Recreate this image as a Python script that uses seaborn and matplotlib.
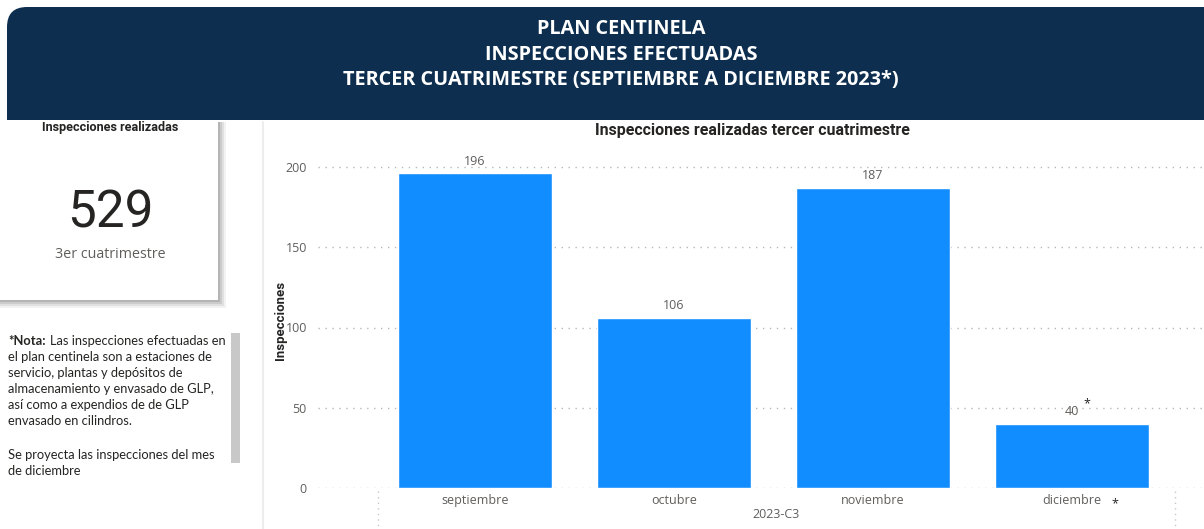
import matplotlib
matplotlib.use("Agg")
import matplotlib.pyplot as plt
from matplotlib.patches import FancyBboxPatch, Rectangle
import pandas as pd
import seaborn as sns

# data
months = ["septiembre", "octubre", "noviembre", "diciembre"]
inspections = [196, 106, 187, 40]
total_label = "529"
y_ticks = [0, 50, 100, 150, 200]

header_lines = ["PLAN CENTINELA", "INSPECCIONES EFECTUADAS",
                "TERCER CUATRIMESTRE (SEPTIEMBRE A DICIEMBRE 2023*)"]
note_lines = ["el plan centinela son a estaciones de",
              "servicio, plantas y depósitos de",
              "almacenamiento y envasado de GLP,",
              "así como a expendios de de GLP",
              "envasado en cilindros."]
note_tail = ["Se proyecta las inspecciones del mes", "de diciembre"]

NAVY = "#0D2E4F"
BLUE = "#118DFF"
GRAY = "#605E5C"
DARK = "#252423"
FONT = "Open Sans"
NOTE_FONT = "Lato"
NOTE_SIZE = 9.3

sns.set_theme(style="white")
plt.rcParams["font.family"] = [FONT, "DejaVu Sans"]

W, H = 1204, 529
fig = plt.figure(figsize=(W / 100, H / 100), dpi=100)

# background axes in pixel coordinates
bg = fig.add_axes([0, 0, 1, 1])
bg.set_xlim(0, W)
bg.set_ylim(H, 0)
bg.axis("off")

# header band with rounded top corners
bg.add_patch(FancyBboxPatch((7, 7), 1240, 140, boxstyle="round,pad=0,rounding_size=20",
                            facecolor=NAVY, edgecolor="none", zorder=1))
bg.add_patch(Rectangle((0, 120), W, H - 120, facecolor="white", edgecolor="none", zorder=2))
for i, line in enumerate(header_lines):
    bg.text(621, 28.5 + i * 26, line, color="white", fontsize=14.3, fontweight="bold",
            ha="center", va="center", zorder=3)

# KPI card with soft shadow
for k, a in enumerate([0.05, 0.07, 0.09, 0.11]):
    off = 8 - k * 2
    bg.add_patch(Rectangle((0, 122), 218 + off, 178 + off, facecolor="#000000",
                           alpha=a, edgecolor="none", zorder=3))
bg.add_patch(Rectangle((0, 120), 218, 180, facecolor="white", edgecolor="none", zorder=4))
bg.text(110, 127, "Inspecciones realizadas", fontsize=9.1, fontweight="bold",
        color=DARK, ha="center", va="center", zorder=5, family="Roboto")
bg.text(110, 214, total_label, fontsize=37, color=DARK,
        ha="center", va="center", zorder=5, family="Roboto")
bg.text(110, 254, "3er cuatrimestre", fontsize=10.3, color=GRAY, ha="center",
        va="center", zorder=5)

# note text
nota = bg.text(8, 341, "*Nota:", fontsize=NOTE_SIZE, fontweight="bold", color=DARK,
               ha="left", va="center", zorder=5, family=NOTE_FONT)
fig.canvas.draw()
nota_box = nota.get_window_extent()
bg.text(nota_box.x1 + 4, 341, "Las inspecciones efectuadas en", fontsize=NOTE_SIZE,
        color=DARK, ha="left", va="center", zorder=5, family=NOTE_FONT)
for i, line in enumerate(note_lines):
    bg.text(8, 357 + i * 16, line, fontsize=NOTE_SIZE, color=DARK, ha="left",
            va="center", zorder=5, family=NOTE_FONT)
for i, line in enumerate(note_tail):
    bg.text(8, 455 + i * 16, line, fontsize=NOTE_SIZE, color=DARK, ha="left",
            va="center", zorder=5, family=NOTE_FONT)
bg.add_patch(Rectangle((231, 333), 9, 130, facecolor="#C8C8C8", edgecolor="none", zorder=5))

# chart panel border
bg.plot([263, 263], [122, H], color="#EDEDED", lw=1.5, zorder=5)
bg.text(752, 130, "Inspecciones realizadas tercer cuatrimestre", fontsize=11.5,
        fontweight="bold", color=DARK, ha="center", va="center", zorder=5,
        family="Roboto")

# bar chart
df = pd.DataFrame({"Mes": months, "Inspecciones": inspections})
ax = fig.add_axes([318 / W, 1 - 488 / H, 1 - 318 / W, (488 - 160) / H])
ax.patch.set_alpha(0)
sns.barplot(data=df, x="Mes", y="Inspecciones", color=BLUE, width=0.775,
            saturation=1, ax=ax, zorder=3)
ax.set_xlim(-0.789, 3.663)
ax.set_ylim(0, (488 - 160) / 1.605)
ax.set_yticks(y_ticks)
ax.yaxis.grid(True, linestyle=(0, (1, 4)), color="#B8B8B8", lw=1)
ax.set_axisbelow(True)
for s in ax.spines.values():
    s.set_visible(False)
ax.tick_params(axis="both", length=0, labelsize=9, colors=GRAY)
ax.tick_params(axis="y", pad=8)
ax.tick_params(axis="x", pad=4)
ax.set_xlabel("")
ax.set_ylabel("")

for i, v in enumerate(inspections):
    ax.annotate(str(v), (i, v), xytext=(0, 4), textcoords="offset points",
                ha="center", va="bottom", fontsize=9, color=GRAY)

bg.set_zorder(0)
ax.set_zorder(1)

# axis titles and hierarchy decorations (pixel coordinates)
fig.text(280 / W, 1 - 320 / H, "Inspecciones", rotation=90, fontsize=9.5,
         fontweight="bold", color=DARK, ha="center", va="center", family="Roboto")
fig.text(776 / W, 1 - 515 / H, "2023-C3", fontsize=9, color=GRAY,
         ha="center", va="center")
fig.text(1087 / W, 1 - 404 / H, "*", fontsize=9, color=DARK, ha="center", va="center")
fig.text(1115 / W, 1 - 504 / H, "*", fontsize=9, color=DARK, ha="center", va="center")
bg.plot([378, 378], [491, H], color="#C8C8C8", lw=1, linestyle=(0, (1, 3)), zorder=5)
bg.plot([1175, 1175], [491, H], color="#C8C8C8", lw=1, linestyle=(0, (1, 3)), zorder=5)

fig.savefig("out.png", dpi=100)
